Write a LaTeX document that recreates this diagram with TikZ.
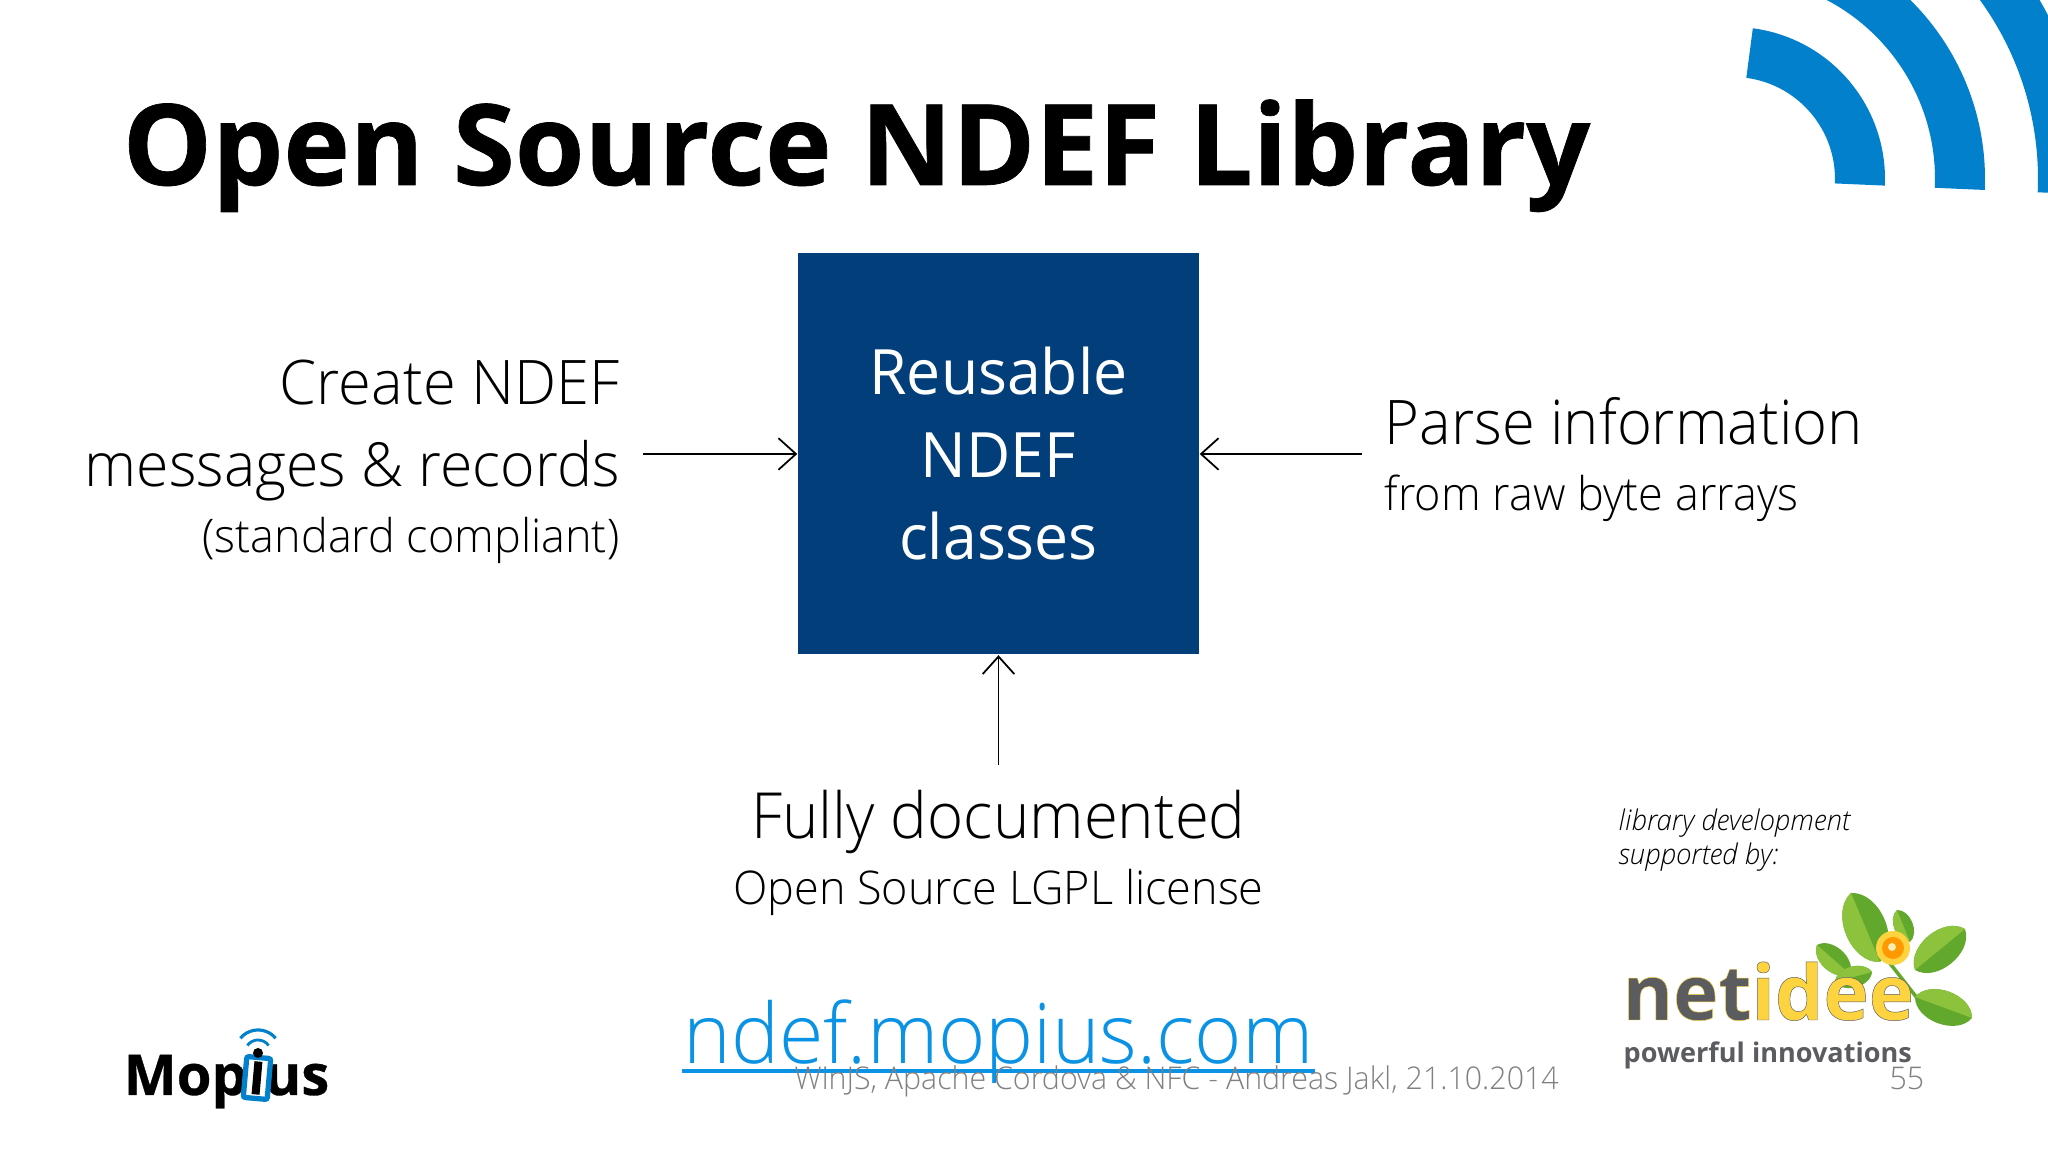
\documentclass[tikz,border=0pt]{standalone}
\usepackage{fontspec}
\usetikzlibrary{arrows.meta}
\setmainfont{Open Sans}[UprightFont=* Light,ItalicFont=* Light Italic,BoldFont=* Bold,FakeStretch=0.97]
\newfontfamily\logofont{Open Sans}[UprightFont=* Bold]
\newfontfamily\heavyfont{Open Sans}[UprightFont=* Bold,FakeBold=0.6]
\newfontfamily\boxfont{Open Sans}[FakeStretch=0.97]
\definecolor{boxblue}{HTML}{023E7A}
\definecolor{wifiblue}{HTML}{0280CB}
\definecolor{linkblue}{HTML}{0A92E4}
\definecolor{footgray}{HTML}{808080}
\definecolor{logogray}{HTML}{5B5C60}
\definecolor{logoyellow}{HTML}{FDD33F}
\definecolor{leafgreen}{HTML}{62A82C}
\definecolor{leaflight}{HTML}{8CC23C}
\tikzset{
	bigtext/.style={font=\fontsize{17.5}{21}\selectfont, inner sep=0pt},
	boxtext/.style={font=\fontsize{17.8}{21}\selectfont\boxfont, text=white, inner sep=0pt, anchor=base},
	smalltext/.style={font=\fontsize{13.2}{16}\selectfont, inner sep=0pt},
	foottext/.style={font=\fontsize{8.9}{10}\selectfont, text=footgray, inner sep=0pt},
	arrowline/.style={line width=0.5pt, -{Straight Barb[length=5pt,width=9pt]}},
}
\newcommand{\leaf}[2]{
	\fill[leafgreen] #1 to[bend left=70] #2 to[bend left=70] cycle;
	\fill[leaflight] #1 to[bend left=70] #2 -- cycle;
}
% stroked letters: stroke colour as rgb, then fill colour
\newcommand{\outlined}[4]{\textcolor{#2}{\special{pdf:code q 2 Tr #3 w #1 RG}#4\special{pdf:code Q}}}
\begin{document}
\begin{tikzpicture}
	\useasboundingbox (0,0) rectangle (20.48,11.52);
	\fill[white] (0,0) rectangle (20.48,11.52);

	% corner waves
	\begin{scope}
		\clip (0,0) rectangle (20.48,11.52);
		\foreach \r in {1.02,2.02,3.05}
			\fill[wifiblue] (17.33,9.73) ++(82.5:\r+0.5) arc (82.5:-2.5:\r+0.5) -- ++(177.5:0.5) arc (-2.5:82.5:\r) -- cycle;
	\end{scope}

	\node[anchor=base west, inner sep=0pt, font=\fontsize{32}{36}\selectfont\heavyfont] (title) at (1.22,9.67) {Open Source NDEF Library};

	\node[fill=boxblue, minimum size=4.01cm, inner sep=0pt] (box) at (9.985,6.98) {};
	\node[boxtext] (reuse) at (9.985,7.57) {Reusable};
	\node[boxtext] (ndef) at (9.985,6.74) {NDEF};
	\node[boxtext] (classes) at (9.985,5.92) {classes};

	\node[bigtext, anchor=base east] (create) at (6.20,7.475) {Create NDEF};
	\node[bigtext, anchor=base east, font=\fontsize{17.3}{21}\selectfont] (messages) at (6.205,6.65) {messages \& records};
	\node[smalltext, anchor=base east] (standard) at (6.20,5.99) {(standard compliant)};

	\node[bigtext, anchor=base west] (parse) at (13.84,7.07) {Parse information};
	\node[smalltext, anchor=base west] (raw) at (13.84,6.41) {from raw byte arrays};

	\node[bigtext, anchor=base, font=\fontsize{18.1}{21}\selectfont] (fully) at (9.985,3.13) {Fully documented};
	\node[smalltext, anchor=base] (lgpl) at (9.985,2.47) {Open Source LGPL license};

	\coordinate (createend) at (6.43,6.98);
	\coordinate (parseend) at (13.62,6.98);
	\coordinate (fullyend) at (9.985,3.87);
	\draw[arrowline] (createend) -- (box);
	\draw[arrowline] (parseend) -- (box);
	\draw[arrowline] (fullyend) -- (box);

	\node[anchor=base, inner sep=0pt, text=linkblue, font=\fontsize{23.7}{26}\selectfont] (link) at (9.985,0.88) {ndef.mopius.com};
	\coordinate (linkleft) at (6.82,0.81);
	\coordinate (linkright) at (13.15,0.81);
	\draw[linkblue, line width=1.4pt] (linkleft) -- (linkright);

	\node[foottext, anchor=base west] (foot) at (7.94,0.62) {WinJS, Apache Cordova \& NFC - Andreas Jakl, 21.10.2014};
	\node[foottext, anchor=base east] (page) at (19.25,0.62) {55};

	\node[anchor=base west, inner sep=0pt, font=\fontsize{8.1}{10}\selectfont\itshape] (library) at (16.18,3.215) {library development};
	\node[anchor=base west, inner sep=0pt, font=\fontsize{8.1}{10}\selectfont\itshape] (supported) at (16.18,2.875) {supported by:};

	% netidee logo
	\draw[leafgreen, line width=1pt] (18.85,1.95) -- (19.28,1.40);
	\leaf{(18.80,1.90)}{(18.51,2.59)}
	\leaf{(19.10,2.10)}{(18.97,2.42)}
	\leaf{(19.15,1.82)}{(19.65,2.23)}
	\leaf{(19.15,1.55)}{(19.72,1.34)}
	\leaf{(18.50,1.78)}{(18.17,2.07)}
	\leaf{(18.35,1.70)}{(18.72,1.80)}
	\fill[logoyellow] (18.93,2.04) circle (0.17);
	\fill[orange!80!yellow] (18.93,2.04) circle (0.11);
	\fill[white!60!logoyellow] (18.92,2.05) circle (0.04);
	\node[anchor=base west, inner sep=0pt, font=\fontsize{21.8}{24}\selectfont\heavyfont] (netidee) at (16.22,1.32) {\outlined{0.99 0.83 0.25}{logogray}{0.45}{net}\outlined{0.36 0.36 0.38}{logoyellow}{0.4}{idee}};
	\node[anchor=base west, inner sep=0pt, text=logogray, font=\fontsize{7.7}{10}\selectfont\logofont] (powerful) at (16.23,0.89) {powerful innovations};

	% mopius logo
	\node[anchor=base west, inner sep=0pt, font=\fontsize{16}{18}\selectfont\heavyfont] (mop) at (1.23,0.57) {Mop};
	\node[anchor=base east, inner sep=0pt, font=\fontsize{16}{18}\selectfont\heavyfont] (us) at (3.30,0.57) {us};
	\node[draw=wifiblue, line width=1.5pt, fill=white, rounded corners=0.6pt, rotate=-5, minimum width=0.24cm, minimum height=0.41cm, inner sep=0pt] (tag) at (2.57,0.74) {};
	\node[fill=black, rotate=-5, minimum width=0.08cm, minimum height=0.33cm, inner sep=0pt] (bar) at (2.57,0.74) {};
	\fill[black] (2.58,0.99) circle (0.05);
	\draw[wifiblue, line width=0.8pt] (2.58,0.99) ++(35:0.13) arc (35:145:0.13);
	\draw[wifiblue, line width=0.9pt] (2.58,0.99) ++(40:0.23) arc (40:140:0.23);
\end{tikzpicture}
\end{document}
